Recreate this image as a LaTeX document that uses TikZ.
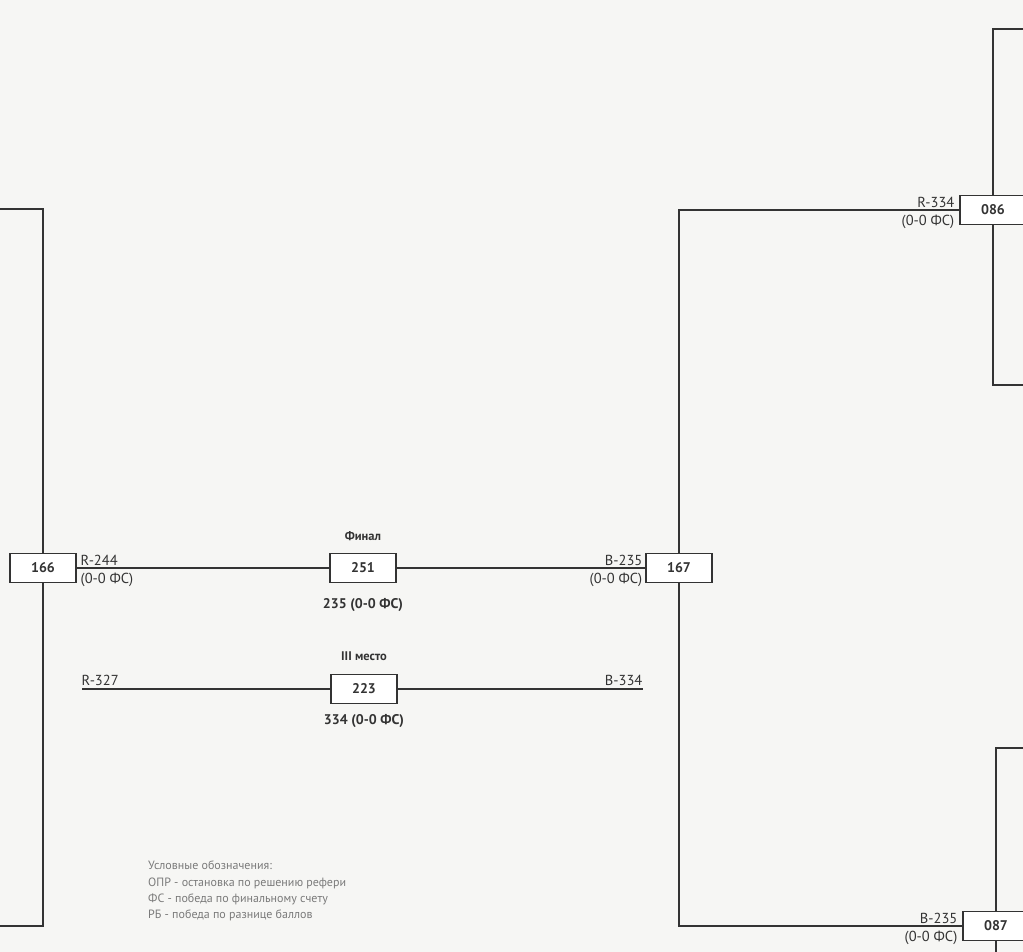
\documentclass[tikz,border=0pt]{standalone}
\usepackage{fontspec}
\setmainfont{PT Sans}
\definecolor{inkgray}{HTML}{333333}
\definecolor{paper}{HTML}{F6F6F4}
\definecolor{notegray}{HTML}{7A7A7A}
\tikzset{
  bout/.style={draw=inkgray, fill=white, line width=1.2pt, minimum width=66pt,
    minimum height=29pt, inner sep=0pt, font=\fontsize{14}{16}\selectfont\bfseries, text=inkgray},
  wire/.style={draw=inkgray, line width=1.3pt},
  side/.style={inner sep=1.5pt, font=\fontsize{14.5}{16}\selectfont, text=inkgray},
  title/.style={font=\fontsize{12.5}{14}\selectfont\bfseries, text=inkgray},
  result/.style={font=\fontsize{14}{16}\selectfont\bfseries, text=inkgray},
  legend/.style={font=\fontsize{12}{16.3}\selectfont, text=notegray, align=left, anchor=north west, inner sep=0pt}
}
\begin{document}
\begin{tikzpicture}[x=1pt, y=-1pt]
    % Paper
    \fill[paper] (0,0) rectangle (1023,952);
    \useasboundingbox (0,0) rectangle (1023,952);

    % Corner points of the brackets
    \coordinate (ltop) at (0,209);
    \coordinate (lbot) at (0,926);
    \coordinate (rtop) at (1023,29);
    \coordinate (rbot) at (1023,385);
    \coordinate (rlow) at (1023,748);
    \coordinate (redge) at (996,952);
    \coordinate (thirdL) at (82,689);
    \coordinate (thirdR) at (643,689);

    % Brackets
    \draw[wire] (ltop) -| (43,568) |- (lbot);
    \draw[wire] (rtop) -| (993,210) |- (rbot);
    \draw[wire] (rlow) -| (redge);
    \draw[wire] (993,210) -- (679,210) -- (679,926) -- (996,926);

    % Boxes
    \node[bout] (b166) at (43,568) {166};
    \node[bout] (b251) at (363,568) {251};
    \node[bout] (b167) at (679,568) {167};
    \node[bout] (b223) at (364,689) {223};
    \node[bout] (b086) at (993,210) {086};
    \node[bout] (b087) at (996,926) {087};

    % Final and third place lines
    \draw[wire] (b166) -- (b251);
    \draw[wire] (b251) -- (b167);
    \draw[wire] (thirdL) -- (b223);
    \draw[wire] (b223) -- (thirdR);

    % Titles and results
    \node[title] (tfin) at (363,536) {Финал};
    \node[result] (rfin) at (363,605) {235 (0-0 ФС)};
    \node[title] (tthird) at (364,656) {III место};
    \node[result] (rthird) at (364,721) {334 (0-0 ФС)};

    % Side labels
    \node[side, anchor=south west] (a166) at (79,567) {R-244};
    \node[side, anchor=north west] (s166) at (79,571) {(0-0 ФС)};
    \node[side, anchor=south east] (a167) at (644,567) {B-235};
    \node[side, anchor=north east] (s167) at (644,571) {(0-0 ФС)};
    \node[side, anchor=south west] (a327) at (80,687) {R-327};
    \node[side, anchor=south east] (a334) at (644,687) {B-334};
    \node[side, anchor=south east] (a086) at (956,209) {R-334};
    \node[side, anchor=north east] (s086) at (956,213) {(0-0 ФС)};
    \node[side, anchor=south east] (a087) at (959,925) {B-235};
    \node[side, anchor=north east] (s087) at (959,929) {(0-0 ФС)};

    % Legend
    \node[legend] (notes) at (148,861) {Условные обозначения:\\
      ОПР - остановка по решению рефери\\
      ФС - победа по финальному счету\\
      РБ - победа по разнице баллов};
\end{tikzpicture}
\end{document}
